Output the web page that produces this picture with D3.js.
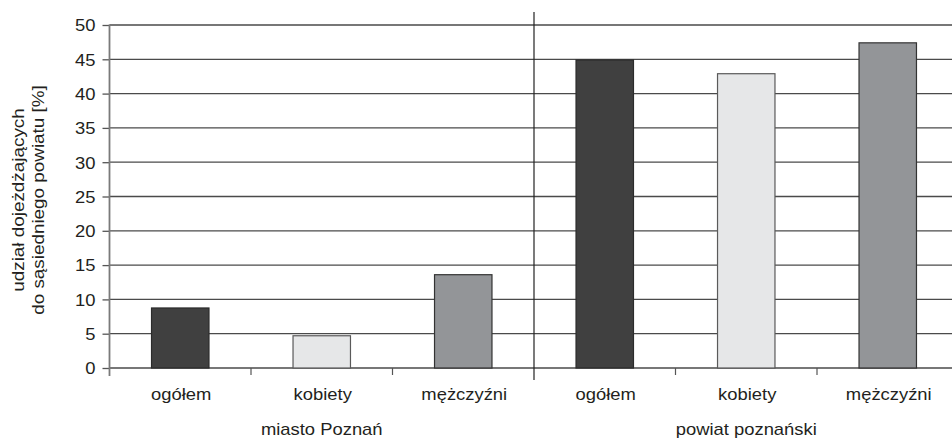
<!DOCTYPE html>
<html><head><meta charset="utf-8">
<script src="https://cdn.jsdelivr.net/npm/d3@7"></script>
<style>
html,body{margin:0;padding:0;background:#fff;overflow:hidden}
text{font-family:"Liberation Sans",Arial,sans-serif;fill:#231f20}
</style></head>
<body>
<svg id="chart" width="952" height="439"></svg>
<script>
const groups = ["miasto Poznań", "powiat poznański"];
const categories = ["ogółem", "kobiety", "mężczyźni"];
const valuesPoznan = [8.75, 4.7, 13.6];
const valuesPowiat = [44.9, 42.9, 47.4];
const yTicks = [0, 5, 10, 15, 20, 25, 30, 35, 40, 45, 50];
const yTitle = ["udział dojeżdżających", "do sąsiedniego powiatu [%]"];
const colors = ["#404040", "#e6e7e8", "#939598"];
const strokes = ["#2b2b2b", "#5a5a5a", "#333333"];

const data = [];
groups.forEach((g, gi) => {
  const vals = gi === 0 ? valuesPoznan : valuesPowiat;
  categories.forEach((c, ci) => data.push({key: g + "|" + c, group: g, cat: c, ci, value: vals[ci]}));
});

const svg = d3.select("#chart");
const pLeft = 109.5, pRight = 958.5, pTop = 25, pBottom = 368;
const x = d3.scaleBand().domain(data.map(d => d.key)).range([pLeft, pRight]).paddingInner(0.594).paddingOuter(0.297);
const xOuter = d3.scaleBand().domain(data.map(d => d.key)).range([pLeft, pRight]).padding(0);
const y = d3.scaleLinear().domain([0, 50]).range([pBottom, pTop]);
const SX = 1.15;

// gridlines
svg.append("g").selectAll("line").data(yTicks).join("line")
  .attr("x1", pLeft).attr("x2", 952)
  .attr("y1", d => y(d)).attr("y2", d => y(d))
  .attr("stroke", "#4a4a4a").attr("stroke-width", 1.3);

// y axis
const yAxis = svg.append("g").attr("transform", `translate(${pLeft},0)`)
  .call(d3.axisLeft(y).tickValues(yTicks).tickSize(7).tickFormat(d3.format("d")));
yAxis.select(".domain").remove();
yAxis.selectAll(".tick line").attr("stroke", "#555").attr("stroke-width", 1.3);
yAxis.selectAll(".tick text")
  .attr("x", 0).attr("dy", null)
  .attr("transform", `translate(-14,5.8) scale(${SX},1)`)
  .attr("font-size", 16).attr("fill", "#231f20")
  .attr("font-family", "Liberation Sans, Arial, sans-serif")
  .attr("text-anchor", "end");
svg.append("line").attr("x1", pLeft).attr("x2", pLeft).attr("y1", pTop - 0.6).attr("y2", 376)
  .attr("stroke", "#7a7a7a").attr("stroke-width", 1.8);

// category tick marks at bottom
const bounds = data.map(d => xOuter(d.key)).slice(1);
svg.append("g").selectAll("line").data(bounds).join("line")
  .attr("x1", d => d).attr("x2", d => d)
  .attr("y1", (d, i) => i === 2 ? 12 : pBottom).attr("y2", (d, i) => i === 2 ? 380 : 375)
  .attr("stroke", (d, i) => i === 2 ? "#222" : "#555").attr("stroke-width", 1.2);

// bars
svg.append("g").selectAll("rect").data(data).join("rect")
  .attr("x", d => x(d.key)).attr("width", x.bandwidth())
  .attr("y", d => y(d.value)).attr("height", d => y(0) - y(d.value))
  .attr("fill", d => colors[d.ci]).attr("stroke", d => strokes[d.ci]).attr("stroke-width", 1.2);

// category labels
svg.append("g").selectAll("text").data(data).join("text")
  .attr("transform", d => `translate(${xOuter(d.key) + xOuter.bandwidth() / 2 + 1},400) scale(${SX},1)`)
  .attr("text-anchor", "middle").attr("font-size", 16).text(d => d.cat);

// group labels
svg.append("g").selectAll("text").data(groups).join("text")
  .attr("transform", g => {
    const ks = data.filter(d => d.group === g).map(d => d.key);
    const cx = (xOuter(ks[0]) + xOuter(ks[ks.length - 1]) + xOuter.bandwidth()) / 2;
    return `translate(${cx},435) scale(${SX},1)`;
  })
  .attr("text-anchor", "middle").attr("font-size", 16).text(g => g);

// y title
svg.append("g").selectAll("text").data(yTitle).join("text")
  .attr("transform", (d, i) => `translate(${24 + i * 20},200) rotate(-90) scale(1.18,1)`)
  .attr("text-anchor", "middle").attr("font-size", 16).text(d => d);
</script>
</body></html>
